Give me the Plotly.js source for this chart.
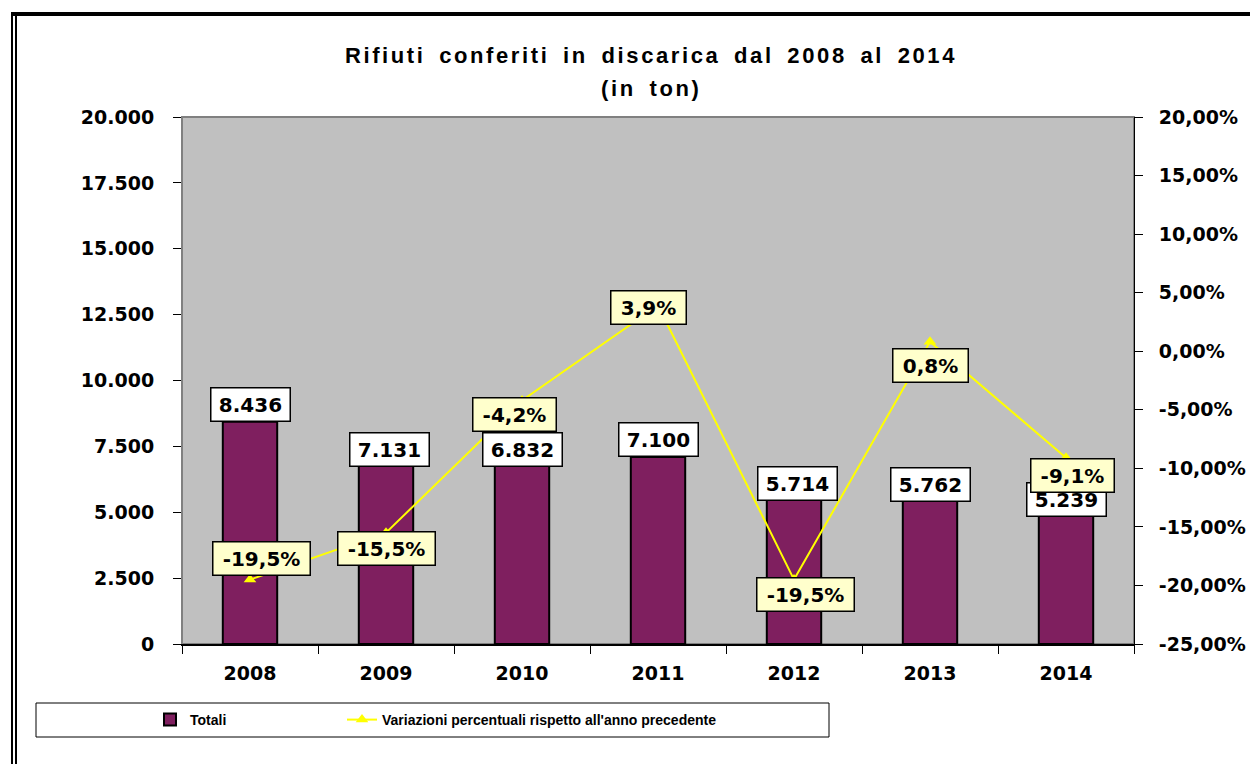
<!DOCTYPE html>
<html>
<head>
<meta charset="utf-8">
<script src="https://cdn.plot.ly/plotly-3.0.1.min.js"></script>
<style>
html,body{margin:0;padding:0;background:#fff;}
#chart{width:1250px;height:764px;}
</style>
</head>
<body>
<div id="chart"></div>
<script>
// ---- data ----
const years = ['2008', '2009', '2010', '2011', '2012', '2013', '2014'];
const totals = [8436, 7131, 6832, 7100, 5714, 5762, 5239];
const totalLabels = ['8.436', '7.131', '6.832', '7.100', '5.714', '5.762', '5.239'];
const pctChange = [-19.5, -15.5, -4.2, 3.9, -19.5, 0.8, -9.1];
const pctLabels = ['-19,5%', '-15,5%', '-4,2%', '3,9%', '-19,5%', '0,8%', '-9,1%'];
const rightTickVals = [-25, -20, -15, -10, -5, 0, 5, 10, 15, 20];
const rightTickLabels = ['-25,00%', '-20,00%', '-15,00%', '-10,00%', '-5,00%', '0,00%', '5,00%', '10,00%', '15,00%', '20,00%'];
const seriesNames = ['Totali', "Variazioni percentuali rispetto all'anno precedente"];
const titleLines = ['Rifiuti conferiti in discarica dal 2008 al 2014', '(in ton)'];

// ---- layout constants (pixels) ----
const W = 1250, H = 764;
const M = {l: 182, r: 116, t: 117, b: 120};
const PW = W - M.l - M.r, PH = H - M.t - M.b;
const px = x => (x - M.l) / PW;
const py = y => (H - M.b - y) / PH;

// manual label nudges (as placed in the original chart)
const barLabelShift = {x: [0, 3, 0, 0, 3, 0, 0], y: [17, 7, 14, 17, 10, 8, 6]};
const pctLabelShift = {x: [11, 0, -8, -10, 11, 0, 6], y: [21, -16, -14, -2, -15, -24, -18]};

const FONT = 'DejaVu Sans';
const TITLE_FONT = 'Liberation Sans';
const ctx = document.createElement('canvas').getContext('2d');
ctx.font = 'bold 20px "DejaVu Sans"';
const tw = s => Math.ceil(ctx.measureText(s).width);

const barTrace = {
  type: 'bar', name: seriesNames[0], x: years, y: totals, width: 0.4,
  marker: {color: '#7F1F5F', line: {color: '#000', width: 2}},
  hoverinfo: 'skip', yaxis: 'y', legend: 'legend'
};
const lineTrace = {
  type: 'scatter', mode: 'lines+markers', name: seriesNames[1], x: years, y: pctChange,
  yaxis: 'y2', line: {color: '#FFFF00', width: 2},
  marker: {symbol: 'triangle-up', size: 11, color: '#FFFF00'},
  hoverinfo: 'skip', legend: 'legend2'
};

const annotations = [];
years.forEach((yr, i) => {
  annotations.push({
    x: i, y: totals[i], xref: 'x', yref: 'y', showarrow: false,
    text: totalLabels[i], xanchor: 'center', yanchor: 'middle',
    xshift: barLabelShift.x[i], yshift: barLabelShift.y[i],
    font: {family: FONT, size: 20, weight: 'bold', color: '#000'},
    bgcolor: '#FFFFFF', bordercolor: '#000', borderwidth: 1.5, borderpad: 3,
    width: tw(totalLabels[i]) + 8, height: 26
  });
});
years.forEach((yr, i) => {
  annotations.push({
    x: i, y: pctChange[i], xref: 'x', yref: 'y2', showarrow: false,
    text: pctLabels[i], xanchor: 'center', yanchor: 'middle',
    xshift: pctLabelShift.x[i], yshift: pctLabelShift.y[i],
    font: {family: FONT, size: 20, weight: 'bold', color: '#000'},
    bgcolor: '#FFFFCC', bordercolor: '#000', borderwidth: 1.5, borderpad: 3,
    width: tw(pctLabels[i]) + 12, height: 26
  });
});
// second title line
annotations.push({
  xref: 'paper', yref: 'paper', x: px(651), y: py(89), showarrow: false,
  text: titleLines[1], xanchor: 'center', yanchor: 'middle',
  font: {family: TITLE_FONT, size: 22, weight: 'bold', color: '#000'}
});

const shapes = [
  {type: 'rect', xref: 'paper', yref: 'paper', x0: 0, x1: 1, y0: 0, y1: 1,
   line: {color: '#808080', width: 2}, layer: 'below'},
  {type: 'line', xref: 'paper', yref: 'paper', x0: px(12), x1: px(12), y0: py(12), y1: py(770),
   line: {color: '#000', width: 2}},
  {type: 'line', xref: 'paper', yref: 'paper', x0: px(16), x1: px(16), y0: py(16), y1: py(770),
   line: {color: '#000', width: 2}},
  {type: 'line', xref: 'paper', yref: 'paper', x0: px(11), x1: px(1260), y0: py(14), y1: py(14),
   line: {color: '#000', width: 4}},
  {type: 'rect', xref: 'paper', yref: 'paper', x0: px(36), x1: px(829), y0: py(703), y1: py(737),
   line: {color: '#000', width: 1}, fillcolor: 'rgba(0,0,0,0)'}
];

const legendFont = {family: 'Liberation Sans', size: 14, weight: 'bold', color: '#000'};

const layout = {
  width: W, height: H, margin: M,
  paper_bgcolor: '#FFFFFF', plot_bgcolor: '#C0C0C0',
  separators: ',.',
  font: {family: FONT, color: '#000'},
  title: {
    text: titleLines[0],
    font: {family: TITLE_FONT, size: 22, weight: 'bold', color: '#000'},
    xref: 'paper', x: px(651), xanchor: 'center',
    yref: 'container', y: 1 - 55 / H, yanchor: 'middle'
  },
  showlegend: true,
  legend: {
    orientation: 'h', xref: 'paper', yref: 'paper', x: px(150), y: py(720),
    xanchor: 'left', yanchor: 'middle', bgcolor: 'rgba(0,0,0,0)', borderwidth: 0,
    font: legendFont
  },
  legend2: {
    orientation: 'h', xref: 'paper', yref: 'paper', x: px(342), y: py(720),
    xanchor: 'left', yanchor: 'middle', bgcolor: 'rgba(0,0,0,0)', borderwidth: 0,
    font: legendFont
  },
  xaxis: {
    type: 'category', range: [-0.5, 6.5], showgrid: false, zeroline: false,
    showline: true, linecolor: '#000', linewidth: 2,
    ticks: 'outside', tickson: 'boundaries', ticklen: 8, tickcolor: '#000', tickwidth: 1,
    tickfont: {family: FONT, size: 19, weight: 'bold', color: '#000'},
    tickangle: 0, ticklabelstandoff: 11, fixedrange: true
  },
  yaxis: {
    range: [0, 20000], dtick: 2500, tick0: 0, tickformat: ',d',
    showgrid: false, zeroline: false,
    showline: true, linecolor: '#808080', linewidth: 1,
    ticks: 'outside', ticklen: 8, tickcolor: '#000', tickwidth: 1,
    tickfont: {family: FONT, size: 19, weight: 'bold', color: '#000'},
    ticklabelstandoff: 15, fixedrange: true
  },
  yaxis2: {
    overlaying: 'y', side: 'right', range: [-25, 20],
    tickvals: rightTickVals, ticktext: rightTickLabels,
    showgrid: false, zeroline: false,
    showline: true, linecolor: '#000', linewidth: 1,
    ticks: 'outside', ticklen: 8, tickcolor: '#000', tickwidth: 1,
    tickfont: {family: FONT, size: 19, weight: 'bold', color: '#000'},
    ticklabelstandoff: 12, fixedrange: true
  },
  annotations: annotations,
  shapes: shapes
};

Plotly.newPlot('chart', [barTrace, lineTrace], layout, {displayModeBar: false, staticPlot: true})
  .then(gd => {
    // the original chart's title is set with wide letter spacing
    const titleEls = [gd.querySelector('.gtitle')];
    const anns = gd.querySelectorAll('.annotation');
    const last = anns[anns.length - 1];
    if (last) titleEls.push(last.querySelector('text'));
    titleEls.forEach(el => {
      if (el) { el.style.letterSpacing = '2.6px'; el.style.wordSpacing = '5px'; }
    });
  });
</script>
</body>
</html>
